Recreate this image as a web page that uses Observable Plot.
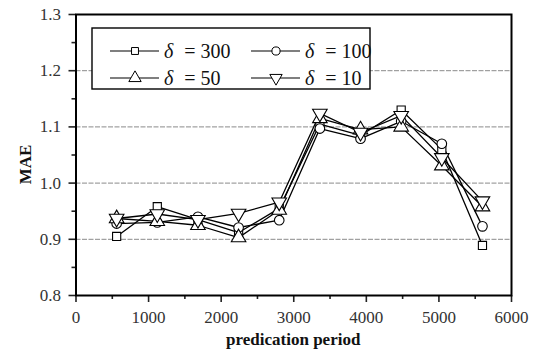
<!DOCTYPE html>
<html>
<head>
<meta charset="utf-8">
<script src="https://cdn.jsdelivr.net/npm/d3@7"></script>
<script src="https://cdn.jsdelivr.net/npm/@observablehq/plot@0.6"></script>
<style>
  html, body { margin: 0; padding: 0; background: #fff; }
  #chart { width: 537px; height: 356px; }
  #chart svg text { font-family: "Liberation Serif", "Times New Roman", serif !important; }
</style>
</head>
<body>
<div id="chart"></div>
<script>
// ---- data ----
const periods = [560, 1120, 1680, 2240, 2800, 3360, 3920, 4480, 5040, 5600];
const mae300 = [0.905, 0.958, 0.935, 0.912, 0.955, 1.105, 1.085, 1.130, 1.060, 0.889];
const mae100 = [0.928, 0.930, 0.940, 0.921, 0.934, 1.097, 1.079, 1.110, 1.070, 0.923];
const mae50  = [0.937, 0.932, 0.925, 0.903, 0.952, 1.115, 1.095, 1.100, 1.031, 0.958];
const mae10  = [0.937, 0.945, 0.935, 0.946, 0.966, 1.124, 1.090, 1.120, 1.045, 0.968];
const seriesNames = ["300", "100", "50", "10"];
const seriesValues = [mae300, mae100, mae50, mae10];
const xTicks = [0, 1000, 2000, 3000, 4000, 5000, 6000];
const yTicks = [0.8, 0.9, 1.0, 1.1, 1.2, 1.3];
const gridValues = [0.9, 1.0, 1.1, 1.2];
const xLabel = "predication period";
const yLabel = "MAE";

const symbolOf = {"300": "square", "100": "circle", "50": "triangle", "10": "triangle"};
const rotateOf = {"300": 0, "100": 0, "50": 0, "10": 180};
const rOf = {"300": 4.6, "100": 4.8, "50": 5.4, "10": 5.4};

const rows = [];
seriesNames.forEach((s, i) => periods.forEach((p, j) => rows.push({series: s, x: p, y: seriesValues[i][j]})));

const serif = "Liberation Serif, Times New Roman, serif";
const W = 537, H = 356;
const mL = 75.5, mR = 26, mT = 14, mB = 61;

const marks = [
  Plot.gridY(gridValues, {stroke: "#8a8a8a", strokeOpacity: 1, strokeWidth: 1, strokeDasharray: "5,1.5"}),
];
seriesNames.forEach(s => {
  const d = rows.filter(r => r.series === s);
  marks.push(Plot.line(d, {x: "x", y: "y", stroke: "#000", strokeWidth: 1.3}));
});
seriesNames.forEach(s => {
  const d = rows.filter(r => r.series === s);
  marks.push(Plot.dot(d, {x: "x", y: "y", symbol: () => symbolOf[s], r: rOf[s], rotate: rotateOf[s], fill: "#fff", stroke: "#000", strokeWidth: 1.1}));
});
marks.push(
  Plot.axisX({ticks: d3.range(500, 6000, 1000), tickSize: 4, text: null, strokeWidth: 1.6, label: null}),
  Plot.axisX({ticks: xTicks, tickSize: 7, tickPadding: 8, strokeWidth: 1.6, fontSize: 17, fontFamily: serif, fill: "#333", label: null, tickFormat: d3.format("d")}),
  Plot.axisY({ticks: d3.range(0.85, 1.3, 0.1), tickSize: 4, text: null, strokeWidth: 1.6, label: null}),
  Plot.axisY({ticks: yTicks, tickSize: 7, tickPadding: 8, strokeWidth: 1.6, fontSize: 17, fontFamily: serif, fill: "#333", label: null, tickFormat: d3.format(".1f")}),
  Plot.frame({stroke: "#000", strokeWidth: 2})
);

const svg = Plot.plot({
  width: W, height: H,
  marginLeft: mL, marginRight: mR, marginTop: mT, marginBottom: mB,
  style: {fontFamily: serif, fontSize: "17px", color: "#222", background: "#fff", overflow: "visible"},
  x: {domain: [0, 6000]},
  y: {domain: [0.8, 1.3]},
  symbol: {type: "identity"},
  marks
});
document.getElementById("chart").appendChild(svg);

// axis titles and legend
const s = d3.select(svg);
s.append("text").attr("x", (mL + W - mR) / 2).attr("y", H - 11)
  .attr("text-anchor", "middle").attr("font-family", serif).attr("font-weight", "bold")
  .attr("font-size", 17).attr("fill", "#111").text(xLabel);
s.append("text").attr("transform", `translate(31,${(mT + H - mB) / 2 + 10}) rotate(-90)`)
  .attr("text-anchor", "middle").attr("font-family", serif).attr("font-weight", "bold")
  .attr("font-size", 17).attr("fill", "#111").text(yLabel);

const lg = s.append("g").attr("text-anchor", "start");
lg.append("rect").attr("x", 92).attr("y", 28).attr("width", 278).attr("height", 61)
  .attr("fill", "#fff").attr("stroke", "#000").attr("stroke-width", 1.4);
const symType = {square: d3.symbolSquare, circle: d3.symbolCircle, triangle: d3.symbolTriangle};
seriesNames.forEach((name, i) => {
  const col = i % 2, row = Math.floor(i / 2);
  const x0 = col === 0 ? 110 : 251;
  const yc = row === 0 ? 51 : 78;
  lg.append("line").attr("x1", x0).attr("x2", x0 + 49).attr("y1", yc).attr("y2", yc)
    .attr("stroke", "#000").attr("stroke-width", 1.2);
  const sym = symbolOf[name];
  const r = rOf[name] * 0.85;
  lg.append("path").attr("d", d3.symbol(symType[sym], Math.PI * r * r)())
    .attr("transform", `translate(${x0 + 25},${yc}) rotate(${rotateOf[name]})`)
    .attr("fill", "#fff").attr("stroke", "#000").attr("stroke-width", 1);
  const t = lg.append("text").attr("x", x0 + 54).attr("y", yc + 7)
    .attr("text-anchor", "start")
    .attr("font-family", serif).attr("font-size", 20).attr("fill", "#111");
  t.append("tspan").attr("font-style", "italic").text("δ");
  t.append("tspan").attr("dx", 11).text("= " + name);
});
</script>
</body>
</html>
